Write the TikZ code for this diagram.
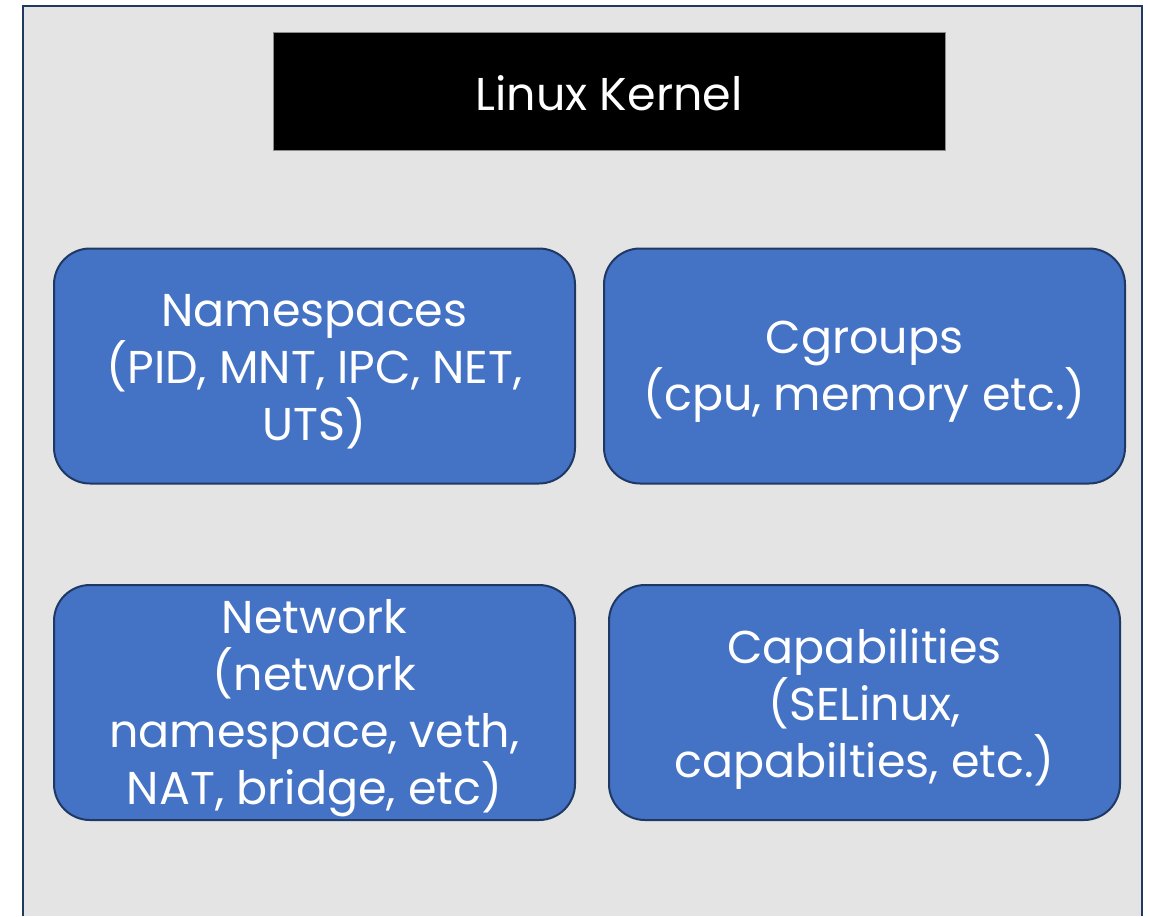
\documentclass[tikz,border=0pt]{standalone}
\usepackage{fontspec}
\setmainfont{Poppins}
\definecolor{bggray}{HTML}{E4E4E4}
\definecolor{navy}{HTML}{1F3864}
\definecolor{boxblue}{HTML}{4472C4}
\definecolor{edgegray}{HTML}{8C8C8C}
\tikzset{
  bigtext/.style={font=\fontsize{46}{57}\selectfont, text=white, align=center, inner sep=0pt},
  featbox/.style={draw=navy, line width=2pt, fill=boxblue, rounded corners=36pt, inner sep=0pt, minimum width=#1, minimum height=235pt},
  kernelbox/.style={draw=edgegray, line width=1pt, fill=black, inner sep=0pt, minimum width=672pt, minimum height=118pt}
}
\begin{document}
\begin{tikzpicture}[x=1pt,y=-1pt]
\useasboundingbox (0,0) rectangle (1150,916);
\fill[bggray] (23,6) rectangle (1142,916);
\draw[navy, line width=2.2pt] (23,916) -- (23,6) -- (1142,6) -- (1142,916);
\node[kernelbox] (kernel) at (609,91) {};
\node[bigtext] (kernelt) at ([yshift=-2pt]kernel.center) {Linux Kernel};
\node[featbox=521pt] (ns) at (314.5,366) {};
\node[bigtext] (nst) at ([yshift=-6pt]ns.center) {Namespaces\\(PID, MNT, IPC, NET,\\UTS)};
\node[featbox=521pt] (cg) at (864.5,366) {};
\node[bigtext] (cgt) at ([yshift=-6pt]cg.center) {Cgroups\\(cpu, memory etc.)};
\node[featbox=521pt] (net) at (314.5,702.5) {};
\node[bigtext] (nett) at ([yshift=-6pt]net.center) {Network\\(network\\namespace, veth,\\NAT, bridge, etc)};
\node[featbox=511pt] (cap) at (864.5,702.5) {};
\node[bigtext] (capt) at ([yshift=-6pt]cap.center) {Capabilities\\(SELinux,\\capabilties, etc.)};
\end{tikzpicture}
\end{document}
